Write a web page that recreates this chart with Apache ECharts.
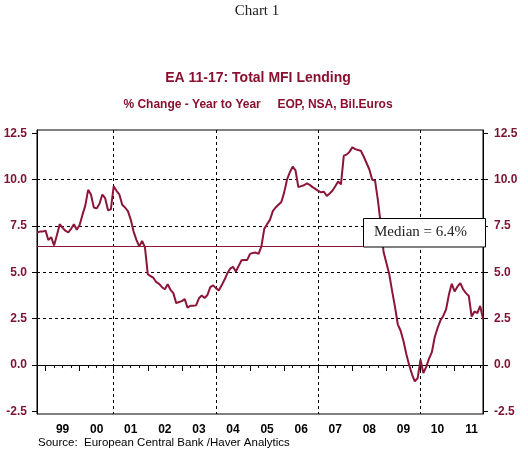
<!DOCTYPE html>
<html><head><meta charset="utf-8">
<script src="https://cdn.jsdelivr.net/npm/echarts@6/dist/echarts.min.js"></script>
<style>html,body{margin:0;padding:0;background:#fff}#c{width:528px;height:459px}</style>
</head><body><div id="c"></div>
<script>
// Monthly series, first point = Oct 1998
const startYear = 1998;
const startMonth = 10;
const values = [
  7.15, 7.2, 7.2, 7.25, 6.75, 6.9, 6.45, 7.0, 7.6, 7.4, 7.25, 7.15,
  7.35, 7.6, 7.3, 7.55, 8.1, 8.6, 9.45, 9.2, 8.5, 8.45, 8.7, 9.2,
  9.0, 8.35, 8.4, 9.65, 9.4, 9.2, 8.65, 8.5, 8.3, 7.85, 7.2, 6.75,
  6.4, 6.7, 6.35, 4.9, 4.8, 4.7, 4.47, 4.38, 4.2, 4.09, 4.36, 4.06,
  3.88, 3.34, 3.4, 3.45, 3.56, 3.1, 3.2, 3.2, 3.22, 3.6, 3.75, 3.62,
  3.78, 4.2, 4.3, 4.15, 4.02, 4.3, 4.6, 4.95, 5.2, 5.3, 5.05, 5.35,
  5.65, 5.67, 5.67, 6.0, 6.05, 6.07, 6.0, 6.4, 7.35, 7.6, 7.83, 8.3,
  8.5, 8.65, 8.8, 9.3, 10.0, 10.4, 10.7, 10.5, 9.6, 9.65, 9.7, 9.8,
  9.72, 9.6, 9.5, 9.4, 9.32, 9.35, 9.12, 9.25, 9.4, 9.65, 9.9, 9.75,
  11.3, 11.35, 11.5, 11.75, 11.65, 11.6, 11.56, 11.25, 10.9, 10.55, 10.0, 9.95,
  8.9, 7.6, 6.1, 5.5, 4.9, 4.0, 3.16, 2.2, 1.85, 1.3, 0.6, 0.0,
  -0.5, -0.88, -0.7, 0.29, -0.43, -0.1, 0.35, 0.7, 1.5, 2.0, 2.4, 2.65,
  3.0, 3.8, 4.38, 3.97, 4.23, 4.42, 4.09, 3.88, 3.73, 2.62, 2.89, 2.8,
  3.19, 2.5
];
const months = values.map((v, i) => {
  const m0 = startMonth - 1 + i;
  return (startYear + Math.floor(m0 / 12)) + '-' + String(m0 % 12 + 1).padStart(2, '0');
});
const yTicks = [-2.5, 0, 2.5, 5, 7.5, 10, 12.5];
const gridValues = [2.5, 5, 7.5, 10];
const zeroValue = 0;
const median = 6.4;
const dividerMonths = ['2001-01', '2004-01', '2007-01', '2010-01'];

const RED = '#8c1538';
const LBL = '#7a1433';
const FONT = 'Liberation Sans, Arial, sans-serif';

const chart = echarts.init(document.getElementById('c'), null, {renderer: 'canvas'});

function yAxisDef(pos) {
  return {
    type: 'value', position: pos, min: -2.64, max: 12.68,
    axisLine: {show: true, lineStyle: {color: '#000', width: 1}},
    axisTick: {show: true, customValues: yTicks, length: 5, lineStyle: {color: '#000'}},
    axisLabel: {customValues: yTicks, formatter: v => v.toFixed(1), color: LBL,
      fontWeight: 'bold', fontSize: 12, fontFamily: FONT, margin: pos === 'left' ? 10 : 11},
    splitLine: {show: false}
  };
}

chart.setOption({
  animation: false,
  backgroundColor: '#fff',
  grid: {left: 37, right: 45, top: 130, bottom: 45, show: true, borderColor: '#000', borderWidth: 1, backgroundColor: 'transparent'},
  xAxis: [{
    type: 'category', data: months, boundaryGap: false, position: 'bottom',
    axisLine: {show: true, lineStyle: {color: '#000', width: 1}},
    axisTick: {show: true, length: 6, interval: (i, v) => v.endsWith('-01'), lineStyle: {color: '#000'}},
    axisLabel: {interval: (i, v) => v.endsWith('-07'), formatter: v => v.slice(2, 4),
      color: '#000', fontWeight: 'bold', fontSize: 12, fontFamily: FONT, margin: 10},
    splitLine: {show: true, interval: (i, v) => dividerMonths.indexOf(v) >= 0,
      lineStyle: {color: '#000', type: [3, 3], width: 1}}
  }, {
    type: 'category', data: months, boundaryGap: false, position: 'bottom',
    axisLine: {show: false},
    axisTick: {show: true, length: 3, interval: (i, v) => /-(04|07|10)$/.test(v), lineStyle: {color: '#000'}},
    axisLabel: {show: false},
    splitLine: {show: false}
  }],
  yAxis: [yAxisDef('left'), yAxisDef('right')],
  series: [{
    type: 'line', xAxisIndex: 0, yAxisIndex: 0, data: values,
    symbol: 'none', z: 3,
    lineStyle: {color: RED, width: 2},
    markLine: {
      silent: true, symbol: 'none', z: 1, animation: false,
      label: {show: false},
      data: [
        ...gridValues.map(v => ({yAxis: v, lineStyle: {color: '#000', type: [3, 3], width: 1}})),
        {yAxis: zeroValue, lineStyle: {color: '#000', type: 'solid', width: 1}},
        {yAxis: median, lineStyle: {color: RED, type: 'solid', width: 1}}
      ]
    }
  }],
  graphic: [
    {type: 'text', x: 257, y: 11, z: 100, style: {text: 'Chart 1', fill: '#222', font: '15px "Liberation Serif", "Times New Roman", serif', align: 'center', verticalAlign: 'middle'}},
    {type: 'text', x: 258, y: 78, z: 100, style: {text: 'EA 11-17: Total MFI Lending', fill: '#8a1030', font: 'bold 14px ' + FONT, align: 'center', verticalAlign: 'middle'}},
    {type: 'text', x: 258, y: 105, z: 100, style: {text: '% Change - Year to Year     EOP, NSA, Bil.Euros', fill: '#8a1030', font: 'bold 12px ' + FONT, align: 'center', verticalAlign: 'middle'}},
    {type: 'text', x: 38, y: 443, z: 100, style: {text: 'Source:  European Central Bank /Haver Analytics', fill: '#000', font: '11.5px ' + FONT, align: 'left', verticalAlign: 'middle'}},
    {type: 'rect', z: 100, shape: {x: 363.5, y: 218.5, width: 122, height: 28.5}, style: {fill: '#fff', stroke: '#000', lineWidth: 1}},
    {type: 'text', x: 374, y: 232, z: 101, style: {text: 'Median = 6.4%', fill: '#222', font: '15px "Liberation Serif", "Times New Roman", serif', align: 'left', verticalAlign: 'middle'}}
  ]
});
</script>
</body></html>
